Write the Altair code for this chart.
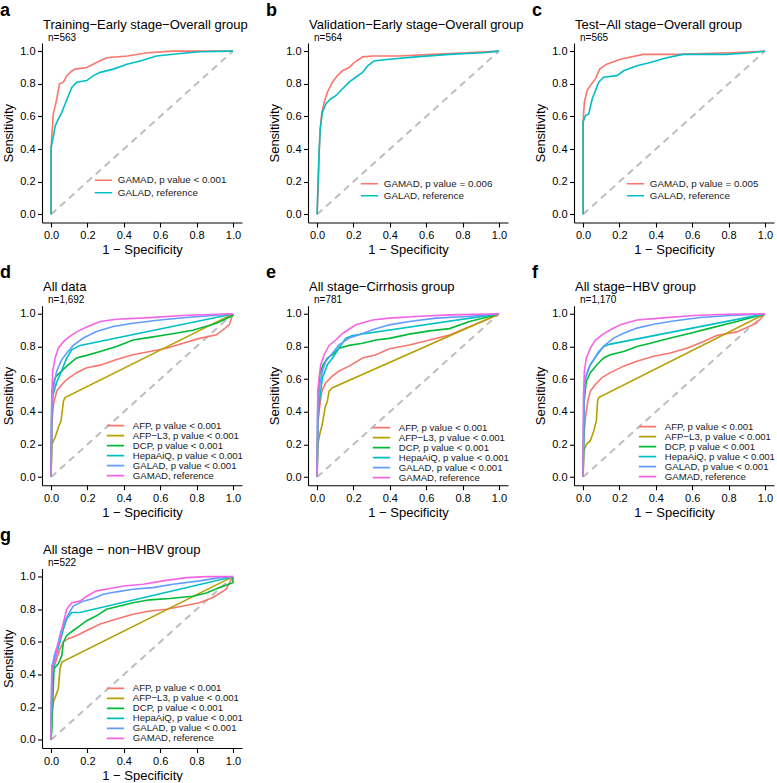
import altair as alt
import pandas as pd

FONT = "Liberation Sans"

# ggplot-style hue colours
C_AFP = "#F8766D"
C_AFPL3 = "#B79F00"
C_DCP = "#00BA38"
C_HEPA = "#00BFC4"
C_GALAD = "#619CFF"
C_GAMAD = "#F564E3"
C_RED = "#F8766D"
C_TEAL = "#00BFC4"

# ---------------- panel a ----------------
A_GAMAD_FPR = [0, 0, 0.004, 0.013, 0.022, 0.031, 0.046, 0.068, 0.086, 0.105, 0.13, 0.196, 0.25, 0.306, 0.42, 0.53, 0.67, 0.80, 1.0]
A_GAMAD_TPR = [0, 0.40, 0.48, 0.625, 0.66, 0.707, 0.80, 0.81, 0.85, 0.87, 0.89, 0.90, 0.93, 0.96, 0.97, 0.99, 1.0, 1.0, 1.0]
A_GALAD_FPR = [0, 0, 0.013, 0.022, 0.04, 0.059, 0.077, 0.095, 0.114, 0.141, 0.196, 0.233, 0.27, 0.343, 0.417, 0.49, 0.58, 0.71, 0.82, 1.0]
A_GALAD_TPR = [0, 0.41, 0.48, 0.54, 0.585, 0.625, 0.676, 0.727, 0.778, 0.81, 0.82, 0.85, 0.87, 0.89, 0.92, 0.94, 0.97, 0.986, 0.996, 1.0]

# ---------------- panel b ----------------
B_GAMAD_FPR = [0, 0.006, 0.011, 0.017, 0.026, 0.039, 0.057, 0.085, 0.112, 0.14, 0.176, 0.204, 0.25, 0.305, 0.45, 0.636, 0.82, 1.0]
B_GAMAD_TPR = [0, 0.157, 0.36, 0.52, 0.625, 0.686, 0.75, 0.81, 0.85, 0.88, 0.90, 0.93, 0.965, 0.97, 0.97, 0.98, 0.99, 1.0]
B_GALAD_FPR = [0, 0.004, 0.011, 0.017, 0.029, 0.048, 0.075, 0.103, 0.14, 0.176, 0.213, 0.25, 0.278, 0.314, 0.397, 0.544, 0.728, 0.91, 1.0]
B_GALAD_TPR = [0, 0.157, 0.38, 0.52, 0.625, 0.676, 0.707, 0.727, 0.77, 0.81, 0.84, 0.87, 0.91, 0.94, 0.95, 0.965, 0.98, 0.99, 1.0]

# ---------------- panel c ----------------
C_GAMAD_FPR = [0, 0, 0.007, 0.022, 0.04, 0.068, 0.091, 0.13, 0.205, 0.33, 0.515, 0.81, 1.0]
C_GAMAD_TPR = [0, 0.565, 0.686, 0.758, 0.79, 0.83, 0.89, 0.92, 0.95, 0.98, 0.98, 0.99, 1.0]
C_GALAD_FPR = [0, 0, 0.013, 0.031, 0.05, 0.068, 0.086, 0.113, 0.186, 0.223, 0.296, 0.37, 0.46, 0.55, 0.79, 0.92, 1.0]
C_GALAD_TPR = [0, 0.565, 0.605, 0.615, 0.707, 0.758, 0.81, 0.84, 0.85, 0.88, 0.91, 0.93, 0.96, 0.98, 0.98, 0.99, 1.0]

# ---------------- panel d ----------------
D_AFP_FPR = [0, 0.004, 0.013, 0.031, 0.059, 0.086, 0.14, 0.196, 0.27, 0.36, 0.45, 0.543, 0.634, 0.726, 0.817, 0.91, 0.98, 1.0]
D_AFP_TPR = [0, 0.325, 0.446, 0.527, 0.568, 0.598, 0.64, 0.67, 0.686, 0.72, 0.75, 0.77, 0.79, 0.82, 0.85, 0.872, 0.933, 1.0]
D_AFPL3_FPR = [0, 0.004, 0.022, 0.04, 0.055, 0.068, 0.077, 1.0]
D_AFPL3_TPR = [0, 0.2, 0.243, 0.304, 0.345, 0.467, 0.487, 1.0]
D_DCP_FPR = [0, 0.004, 0.022, 0.049, 0.086, 0.14, 0.196, 0.27, 0.36, 0.45, 0.543, 0.634, 0.78, 0.91, 1.0, 1.0]
D_DCP_TPR = [0, 0.527, 0.61, 0.64, 0.68, 0.73, 0.746, 0.77, 0.80, 0.84, 0.856, 0.872, 0.90, 0.943, 0.99, 1.0]
D_HEPA_FPR = [0, 0.003, 0.01, 0.03, 0.05, 0.086, 0.113, 0.16, 1.0]
D_HEPA_TPR = [0, 0.35, 0.5, 0.58, 0.63, 0.73, 0.78, 0.807, 1.0]
D_GALAD_FPR = [0, 0.004, 0.016, 0.031, 0.059, 0.086, 0.122, 0.177, 0.25, 0.342, 0.45, 0.598, 0.744, 0.89, 1.0]
D_GALAD_TPR = [0, 0.446, 0.568, 0.65, 0.72, 0.76, 0.807, 0.852, 0.892, 0.923, 0.943, 0.963, 0.978, 0.99, 1.0]
D_GAMAD_FPR = [0, 0.004, 0.009, 0.022, 0.04, 0.068, 0.095, 0.14, 0.196, 0.27, 0.36, 0.543, 0.726, 0.91, 1.0]
D_GAMAD_TPR = [0, 0.487, 0.65, 0.73, 0.79, 0.83, 0.856, 0.89, 0.92, 0.953, 0.967, 0.977, 0.99, 0.998, 1.0]

# ---------------- panel e ----------------
E_AFP_FPR = [0, 0.004, 0.011, 0.026, 0.048, 0.085, 0.121, 0.176, 0.25, 0.324, 0.397, 0.507, 0.618, 0.728, 0.82, 0.91, 1.0]
E_AFP_TPR = [0, 0.325, 0.405, 0.527, 0.578, 0.62, 0.65, 0.68, 0.73, 0.75, 0.787, 0.81, 0.84, 0.87, 0.913, 0.953, 1.0]
E_AFPL3_FPR = [0, 0.004, 0.015, 0.029, 0.044, 0.057, 0.066, 0.085, 1.0]
E_AFPL3_TPR = [0, 0.2, 0.264, 0.325, 0.426, 0.467, 0.527, 0.548, 1.0]
E_DCP_FPR = [0, 0.004, 0.015, 0.033, 0.057, 0.085, 0.121, 0.176, 0.25, 0.324, 0.397, 0.507, 0.618, 0.728, 0.838, 0.949, 1.0]
E_DCP_TPR = [0, 0.487, 0.63, 0.69, 0.73, 0.75, 0.79, 0.807, 0.82, 0.84, 0.85, 0.876, 0.896, 0.91, 0.953, 0.984, 1.0]
E_HEPA_FPR = [0, 0.006, 0.015, 0.029, 0.057, 0.085, 0.121, 0.158, 0.195, 1.0]
E_HEPA_TPR = [0, 0.365, 0.487, 0.608, 0.69, 0.73, 0.79, 0.852, 0.868, 1.0]
E_GALAD_FPR = [0, 0.004, 0.015, 0.029, 0.048, 0.085, 0.121, 0.176, 0.232, 0.305, 0.397, 0.507, 0.654, 0.82, 1.0]
E_GALAD_TPR = [0, 0.426, 0.568, 0.65, 0.71, 0.76, 0.81, 0.852, 0.872, 0.903, 0.933, 0.953, 0.974, 0.984, 1.0]
E_GAMAD_FPR = [0, 0.004, 0.011, 0.02, 0.039, 0.066, 0.103, 0.14, 0.213, 0.305, 0.397, 0.544, 0.728, 1.0]
E_GAMAD_TPR = [0, 0.527, 0.608, 0.69, 0.75, 0.807, 0.84, 0.88, 0.933, 0.963, 0.974, 0.984, 0.994, 1.0]

# ---------------- panel f ----------------
F_AFP_FPR = [0, 0.005, 0.013, 0.026, 0.04, 0.068, 0.104, 0.15, 0.223, 0.296, 0.388, 0.48, 0.57, 0.66, 0.735, 0.845, 0.954, 1.0]
F_AFP_TPR = [0, 0.264, 0.365, 0.467, 0.527, 0.568, 0.61, 0.64, 0.68, 0.71, 0.74, 0.76, 0.79, 0.83, 0.868, 0.89, 0.943, 1.0]
F_AFPL3_FPR = [0, 0.004, 0.018, 0.04, 0.059, 0.073, 0.08, 0.086, 1.0]
F_AFPL3_TPR = [0, 0.162, 0.2, 0.223, 0.284, 0.345, 0.467, 0.487, 1.0]
F_DCP_FPR = [0, 0.005, 0.018, 0.04, 0.077, 0.113, 0.15, 0.223, 0.296, 0.37, 0.48, 0.59, 0.70, 0.845, 1.0]
F_DCP_TPR = [0, 0.467, 0.588, 0.64, 0.69, 0.73, 0.75, 0.77, 0.80, 0.82, 0.852, 0.882, 0.913, 0.953, 1.0]
F_HEPA_FPR = [0, 0.005, 0.013, 0.04, 0.077, 0.113, 0.15, 1.0]
F_HEPA_TPR = [0, 0.426, 0.608, 0.69, 0.75, 0.80, 0.815, 1.0]
F_GALAD_FPR = [0, 0.004, 0.013, 0.031, 0.059, 0.086, 0.122, 0.168, 0.223, 0.296, 0.388, 0.497, 0.644, 0.808, 1.0]
F_GALAD_TPR = [0, 0.487, 0.608, 0.67, 0.72, 0.77, 0.81, 0.852, 0.882, 0.913, 0.937, 0.957, 0.978, 0.99, 1.0]
F_GAMAD_FPR = [0, 0.002, 0.007, 0.018, 0.04, 0.068, 0.104, 0.15, 0.205, 0.296, 0.424, 0.607, 0.79, 1.0]
F_GAMAD_TPR = [0, 0.487, 0.65, 0.73, 0.79, 0.84, 0.872, 0.903, 0.933, 0.963, 0.974, 0.99, 0.998, 1.0]

# ---------------- panel g ----------------
G_AFP_FPR = [0, 0.004, 0.013, 0.031, 0.049, 0.068, 0.095, 0.141, 0.196, 0.27, 0.36, 0.45, 0.543, 0.634, 0.726, 0.817, 0.89, 0.963, 1.0]
G_AFP_TPR = [0, 0.314, 0.436, 0.497, 0.558, 0.60, 0.62, 0.64, 0.67, 0.71, 0.74, 0.77, 0.79, 0.80, 0.82, 0.84, 0.872, 0.923, 1.0]
G_AFPL3_FPR = [0, 0.004, 0.013, 0.027, 0.04, 0.049, 0.059, 1.0]
G_AFPL3_TPR = [0, 0.152, 0.233, 0.274, 0.314, 0.436, 0.477, 1.0]
G_DCP_FPR = [0, 0.004, 0.009, 0.016, 0.04, 0.059, 0.068, 0.086, 0.122, 0.159, 0.196, 0.25, 0.305, 0.378, 0.45, 0.543, 0.653, 0.78, 0.854, 0.927, 0.98, 1.0, 1.0]
G_DCP_TPR = [0, 0.07, 0.233, 0.436, 0.467, 0.517, 0.60, 0.64, 0.67, 0.70, 0.73, 0.76, 0.80, 0.82, 0.84, 0.858, 0.866, 0.88, 0.90, 0.933, 0.955, 0.963, 1.0]
G_HEPA_FPR = [0, 0.004, 0.022, 0.049, 0.068, 0.086, 0.113, 0.159, 1.0]
G_HEPA_TPR = [0, 0.375, 0.497, 0.60, 0.68, 0.74, 0.78, 0.78, 1.0]
G_GALAD_FPR = [0, 0.004, 0.018, 0.035, 0.053, 0.077, 0.095, 0.122, 0.177, 0.232, 0.287, 0.36, 0.45, 0.56, 0.67, 0.817, 0.927, 1.0]
G_GALAD_TPR = [0, 0.436, 0.517, 0.578, 0.66, 0.73, 0.77, 0.82, 0.85, 0.866, 0.892, 0.907, 0.923, 0.933, 0.953, 0.974, 0.994, 1.0]
G_GAMAD_FPR = [0, 0.004, 0.022, 0.031, 0.049, 0.068, 0.086, 0.113, 0.159, 0.196, 0.25, 0.324, 0.397, 0.506, 0.616, 0.744, 0.854, 1.0]
G_GAMAD_TPR = [0, 0.456, 0.477, 0.558, 0.62, 0.72, 0.80, 0.84, 0.85, 0.88, 0.913, 0.927, 0.943, 0.953, 0.974, 0.994, 1.0, 1.0]

P6 = ", p value < 0.001"
SIX_LABELS = ["AFP" + P6, "AFP\u2212L3" + P6, "DCP" + P6, "HepaAiQ" + P6, "GALAD" + P6, "GAMAD, reference"]
SIX_COLORS = [C_AFP, C_AFPL3, C_DCP, C_HEPA, C_GALAD, C_GAMAD]

W, H = 200, 179.5
TICKS = [0, 0.2, 0.4, 0.6, 0.8, 1.0]

axis_style = dict(
    values=TICKS, format=".1f", grid=False, labelFlush=False, labelOverlap=False,
    domainColor="black", domainWidth=1.1, tickColor="black", tickWidth=1.1, tickSize=4.5,
    labelFont=FONT, labelFontSize=11, labelColor="black", labelPadding=2.5,
    titleFont=FONT, titleFontSize=13, titleFontWeight="normal", titleColor="black",
)
X_ENC = alt.X("fpr:Q", scale=alt.Scale(domain=[-0.05, 1.05], nice=False, zero=False),
              axis=alt.Axis(titlePadding=3, **axis_style), title="1 \u2212 Specificity")
Y_ENC = alt.Y("tpr:Q", scale=alt.Scale(domain=[-0.05, 1.05], nice=False, zero=False),
              axis=alt.Axis(titlePadding=4.5, **axis_style), title="Sensitivity")


def label_text(text, dx, dy, size, weight="normal"):
    return alt.Chart(pd.DataFrame({"t": [text]})).mark_text(
        align="left", baseline="alphabetic", font=FONT, fontSize=size,
        fontWeight=weight, color="black",
    ).encode(x=alt.value(dx), y=alt.value(dy), text="t:N")


def roc_panel(letter, title, n_text, series, legend_x, legend_y,
              row_h, row_pad, label_size, label_offset, anchor=False):
    # series entries: (legend label, fpr list, tpr list, colour)
    rows = []
    for label, fpr, tpr, _col in series:
        for i, (fx, ty) in enumerate(zip(fpr, tpr)):
            rows.append({"model": label, "fpr": fx, "tpr": ty, "step": i})
    df = pd.DataFrame(rows)
    labels = [s[0] for s in series]
    colors = [s[3] for s in series]

    diag = alt.Chart(pd.DataFrame({"fpr": [0, 1], "tpr": [0, 1]})).mark_line(
        color="#BEBEBE", strokeWidth=2, strokeDash=[7, 5]
    ).encode(x=X_ENC, y=Y_ENC)

    curves = alt.Chart(df).mark_line(strokeWidth=1.6).encode(
        x=X_ENC, y=Y_ENC,
        color=alt.Color("model:N", scale=alt.Scale(domain=labels, range=colors),
                        legend=alt.Legend(
                            orient="none", legendX=legend_x, legendY=legend_y,
                            title=None, direction="vertical",
                            symbolType="stroke", symbolSize=300, symbolStrokeWidth=1.6,
                            labelFont=FONT, labelFontSize=label_size, labelColor="#1a1a1a",
                            labelOffset=label_offset, clipHeight=row_h, rowPadding=row_pad,
                            padding=0, labelLimit=0)),
        order="step:Q",
    )

    layers = [diag, curves,
              label_text(letter, -42, -27.5, 18, "bold"),
              label_text(title, 1, -14.5, 13),
              label_text(n_text, 6, -2.5, 10)]
    if anchor:
        layers.append(alt.Chart(pd.DataFrame({"v": [0]})).mark_rect(opacity=0).encode(
            x=alt.value(-42), x2=alt.value(-41), y=alt.value(-42.5), y2=alt.value(-41.5)))
    return alt.layer(*layers).properties(width=W, height=H)


def two(labels, gamad_f, gamad_t, galad_f, galad_t):
    return [(labels[0], gamad_f, gamad_t, C_RED), (labels[1], galad_f, galad_t, C_TEAL)]


def six(pairs):
    return [(lab, f, t, c) for lab, (f, t), c in zip(SIX_LABELS, pairs, SIX_COLORS)]


pa = roc_panel("a", "Training\u2212Early stage\u2212Overall group", "n=563",
               two(["GAMAD, p value < 0.001", "GALAD, reference"],
                   A_GAMAD_FPR, A_GAMAD_TPR, A_GALAD_FPR, A_GALAD_TPR),
               52, 131.5, 11.5, 0.5, 9.8, 4.8, anchor=True)
pb = roc_panel("b", "Validation\u2212Early stage\u2212Overall group", "n=564",
               two(["GAMAD, p value = 0.006", "GALAD, reference"],
                   B_GAMAD_FPR, B_GAMAD_TPR, B_GALAD_FPR, B_GALAD_TPR),
               52, 135, 11.5, 0, 9.8, 4.8)
pc = roc_panel("c", "Test\u2212All stage\u2212Overall group", "n=565",
               two(["GAMAD, p value = 0.005", "GALAD, reference"],
                   C_GAMAD_FPR, C_GAMAD_TPR, C_GALAD_FPR, C_GALAD_TPR),
               52, 135, 11.5, 0, 9.8, 4.8)
pd_ = roc_panel("d", "All data", "n=1,692",
                six([(D_AFP_FPR, D_AFP_TPR), (D_AFPL3_FPR, D_AFPL3_TPR), (D_DCP_FPR, D_DCP_TPR),
                     (D_HEPA_FPR, D_HEPA_TPR), (D_GALAD_FPR, D_GALAD_TPR), (D_GAMAD_FPR, D_GAMAD_TPR)]),
                64, 115, 9.7, -2.2, 9.6, 7.8)
pe = roc_panel("e", "All stage\u2212Cirrhosis group", "n=781",
               six([(E_AFP_FPR, E_AFP_TPR), (E_AFPL3_FPR, E_AFPL3_TPR), (E_DCP_FPR, E_DCP_TPR),
                    (E_HEPA_FPR, E_HEPA_TPR), (E_GALAD_FPR, E_GALAD_TPR), (E_GAMAD_FPR, E_GAMAD_TPR)]),
               64, 117, 9.7, -2.2, 9.6, 7.8)
pf = roc_panel("f", "All stage\u2212HBV group", "n=1,170",
               six([(F_AFP_FPR, F_AFP_TPR), (F_AFPL3_FPR, F_AFPL3_TPR), (F_DCP_FPR, F_DCP_TPR),
                    (F_HEPA_FPR, F_HEPA_TPR), (F_GALAD_FPR, F_GALAD_TPR), (F_GAMAD_FPR, F_GAMAD_TPR)]),
               64, 116, 9.7, -2.2, 9.6, 7.8)
pg = roc_panel("g", "All stage \u2212 non\u2212HBV group", "n=522",
               six([(G_AFP_FPR, G_AFP_TPR), (G_AFPL3_FPR, G_AFPL3_TPR), (G_DCP_FPR, G_DCP_TPR),
                    (G_HEPA_FPR, G_HEPA_TPR), (G_GALAD_FPR, G_GALAD_TPR), (G_GAMAD_FPR, G_GAMAD_TPR)]),
               64, 115, 9.7, -2.2, 9.6, 7.8)

chart = alt.concat(
    pa, pb, pc, pd_, pe, pf, pg,
    columns=3, spacing={"row": 82.75, "column": 66}, bounds="flush",
).resolve_scale(
    color="independent", x="independent", y="independent"
).configure(
    font=FONT, background="white", padding=0
).configure_view(stroke=None)

chart.save("out.html", embed_options={"renderer": "svg", "actions": False})
